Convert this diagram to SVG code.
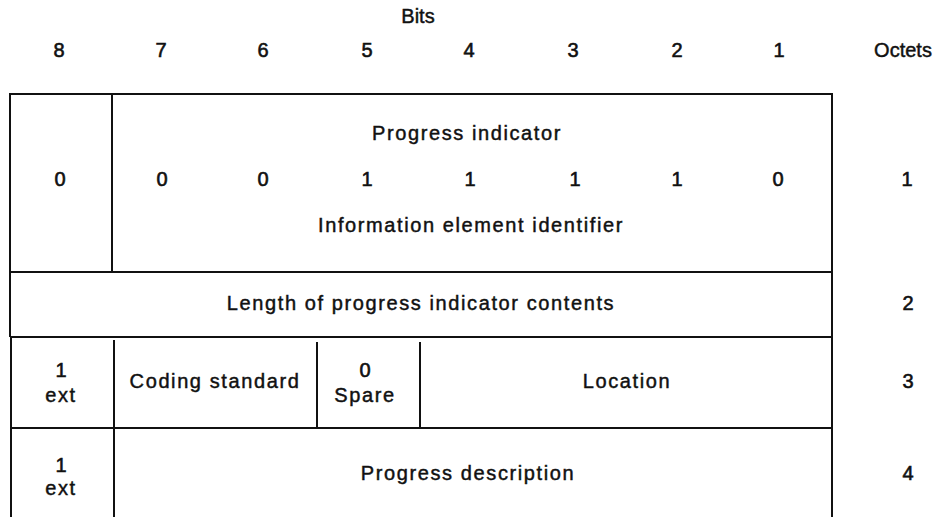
<svg xmlns="http://www.w3.org/2000/svg" width="941" height="517" viewBox="0 0 941 517">
<style>
  text { font-family: "Liberation Sans", Arial, sans-serif; font-size: 20px; fill: #111; stroke: #111; stroke-width: 0.45; text-anchor: middle; letter-spacing: 1.6px; }
  .d { font-size: 20px; letter-spacing: 0; stroke-width: 0.6; }
  line { stroke: #111; stroke-width: 2; }
</style>
<rect width="941" height="517" fill="#fff"/>
<g id="header">
  <text x="418" y="23" class="d" style="stroke-width:0.45">Bits</text>
  <text x="59" y="57" class="d">8</text>
  <text x="161" y="57" class="d">7</text>
  <text x="263" y="57" class="d">6</text>
  <text x="367" y="57" class="d">5</text>
  <text x="469" y="57" class="d">4</text>
  <text x="573" y="57" class="d">3</text>
  <text x="677" y="57" class="d">2</text>
  <text x="779" y="57" class="d">1</text>
  <text x="903" y="57" class="d" style="stroke-width:0.45">Octets</text>
</g>
<g id="lines">
  <line x1="10" y1="94" x2="832" y2="94"/>
  <line x1="10" y1="272" x2="832" y2="272"/>
  <line x1="11" y1="337" x2="832" y2="337"/>
  <line x1="11" y1="428" x2="832" y2="428"/>
  <line x1="10" y1="93" x2="10" y2="337"/>
  <line x1="11" y1="337" x2="11" y2="517"/>
  <line x1="832" y1="93" x2="832" y2="517"/>
  <line x1="112" y1="94" x2="112" y2="272"/>
  <line x1="114" y1="340" x2="114" y2="517"/>
  <line x1="317" y1="342" x2="317" y2="428"/>
  <line x1="420" y1="342" x2="420" y2="428"/>
</g>
<g id="octet1">
  <text x="467" y="140">Progress indicator</text>
  <text x="60" y="186" class="d">0</text>
  <text x="162" y="186" class="d">0</text>
  <text x="263" y="186" class="d">0</text>
  <text x="367" y="186" class="d">1</text>
  <text x="470" y="186" class="d">1</text>
  <text x="575" y="186" class="d">1</text>
  <text x="677" y="186" class="d">1</text>
  <text x="778" y="186" class="d">0</text>
  <text x="471" y="232">Information element identifier</text>
  <text x="907" y="186" class="d">1</text>
</g>
<g id="octet2">
  <text x="421" y="310">Length of progress indicator contents</text>
  <text x="908" y="310" class="d">2</text>
</g>
<g id="octet3">
  <text x="61" y="377" class="d">1</text>
  <text x="61" y="402">ext</text>
  <text x="215" y="388">Coding standard</text>
  <text x="365" y="377" class="d">0</text>
  <text x="365" y="402">Spare</text>
  <text x="627" y="388">Location</text>
  <text x="908" y="388" class="d">3</text>
</g>
<g id="octet4">
  <text x="61" y="472" class="d">1</text>
  <text x="61" y="495">ext</text>
  <text x="468" y="480">Progress description</text>
  <text x="908" y="480" class="d">4</text>
</g>
</svg>
